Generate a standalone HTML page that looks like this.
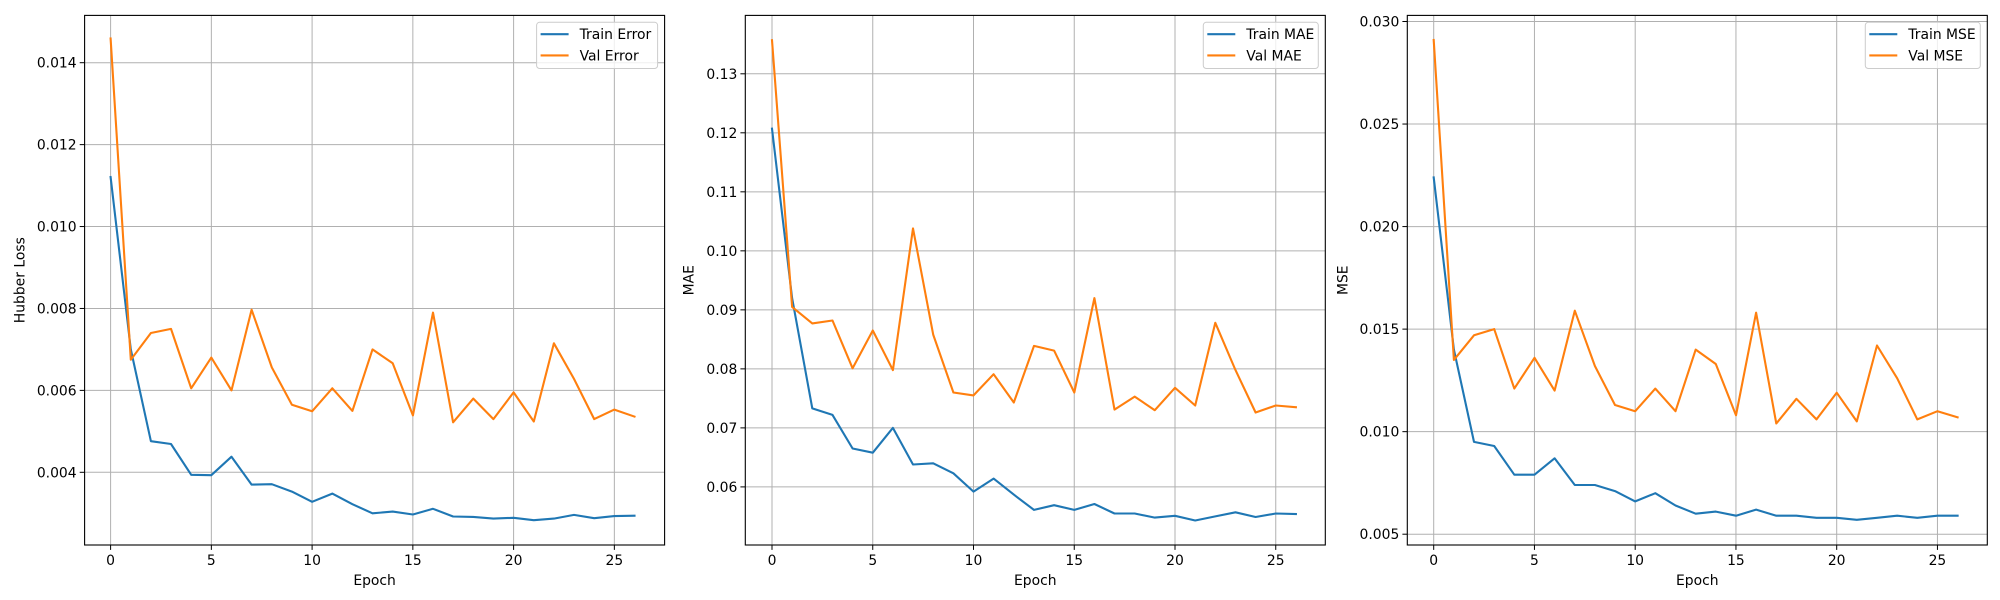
<!DOCTYPE html>
<html><head><meta charset="utf-8"><style>
html,body{margin:0;padding:0;background:#fff;}
svg{display:block;font-family:"DejaVu Sans","Liberation Sans",sans-serif;}
</style></head><body>
<svg id="fig" width="2000" height="600" xmlns="http://www.w3.org/2000/svg"></svg>
<script>
const epochs = [0,1,2,3,4,5,6,7,8,9,10,11,12,13,14,15,16,17,18,19,20,21,22,23,24,25,26];
const xTicks = [0,5,10,15,20,25];

const trainHuber = [0.01121,0.0070,0.00476,0.00469,0.00394,0.00393,0.00438,0.0037,0.00371,0.00353,0.00328,0.00348,0.00322,0.0030,0.00304,0.00297,0.00311,0.00292,0.00291,0.00287,0.00289,0.00283,0.00287,0.00296,0.00288,0.00293,0.00294];
const valHuber = [0.01459,0.00675,0.0074,0.0075,0.00605,0.0068,0.0060,0.00797,0.00656,0.00565,0.00549,0.00605,0.0055,0.0070,0.00666,0.00539,0.0079,0.00522,0.0058,0.0053,0.00595,0.00524,0.00715,0.00628,0.0053,0.00553,0.00536];
const huberTicks = [0.004,0.006,0.008,0.010,0.012,0.014];

const trainMAE = [0.1207,0.092,0.0733,0.0722,0.0665,0.0658,0.070,0.0638,0.064,0.0623,0.0592,0.0614,0.0587,0.0561,0.0569,0.0561,0.0571,0.0555,0.0555,0.0548,0.0551,0.0543,0.055,0.0557,0.0549,0.0555,0.0554];
const valMAE = [0.1357,0.0905,0.0877,0.0882,0.0801,0.0865,0.0798,0.1038,0.0858,0.076,0.0755,0.0791,0.0743,0.0839,0.0831,0.076,0.092,0.0731,0.0753,0.073,0.0768,0.0738,0.0878,0.0798,0.0726,0.0738,0.0735];
const maeTicks = [0.06,0.07,0.08,0.09,0.10,0.11,0.12,0.13];

const trainMSE = [0.0224,0.0140,0.0095,0.0093,0.0079,0.0079,0.0087,0.0074,0.0074,0.0071,0.0066,0.0070,0.0064,0.0060,0.0061,0.0059,0.0062,0.0059,0.0059,0.0058,0.0058,0.0057,0.0058,0.0059,0.0058,0.0059,0.0059];
const valMSE = [0.0291,0.0135,0.0147,0.0150,0.0121,0.0136,0.0120,0.0159,0.0132,0.0113,0.0110,0.0121,0.0110,0.0140,0.0133,0.0108,0.0158,0.0104,0.0116,0.0106,0.0119,0.0105,0.0142,0.0126,0.0106,0.0110,0.0107];
const mseTicks = [0.005,0.010,0.015,0.020,0.025,0.030];

const NS = "http://www.w3.org/2000/svg";
const fig = document.getElementById('fig');
function mk(tag, attrs, parent){
  const e = document.createElementNS(NS, tag);
  for (const k in attrs) e.setAttribute(k, attrs[k]);
  (parent||fig).appendChild(e);
  return e;
}
const TOP = 15.4, BOT = 545, W = 580;

function panel(key, left, x0px, yRef, ylabel, ticks, dec, train, val, names){
  const g = mk('g', {});
  
  
  const xs = v => x0px + v * 20.15;
  const ys = v => yRef.p0 + (v - yRef.v0) * (yRef.p1 - yRef.p0) / (yRef.v1 - yRef.v0);
  // grid
  xTicks.forEach(t => {
    const l = mk('line', {x1: xs(t), x2: xs(t), y1: TOP, y2: BOT, stroke: '#b0b0b0', 'stroke-width': 1}, g);
    
    
  });
  ticks.forEach(t => {
    const l = mk('line', {x1: left, x2: left + W, y1: ys(t), y2: ys(t), stroke: '#b0b0b0', 'stroke-width': 1}, g);
    
    
  });
  // series
  const series = [[train, '#1f77b4', names[0]], [val, '#ff7f0e', names[1]]];
  series.forEach(s => {
    const pts = epochs.map((e, i) => xs(e).toFixed(1) + ',' + ys(s[0][i]).toFixed(1)).join(' ');
    const pl = mk('polyline', {points: pts, fill: 'none', stroke: s[1], 'stroke-width': 2.1, 'stroke-linejoin': 'round', 'stroke-linecap': 'square'}, g);
    
    
  });
  // frame
  const fr = mk('rect', {x: left, y: TOP, width: W, height: BOT - TOP, fill: 'none', stroke: '#000', 'stroke-width': 1.1}, g);
  
  
  // x ticks
  xTicks.forEach(t => {
    mk('line', {x1: xs(t), x2: xs(t), y1: BOT, y2: BOT + 4.9, stroke: '#000', 'stroke-width': 1}, g);
    const tx = mk('text', {x: xs(t), y: BOT + 20, 'text-anchor': 'middle', 'font-size': 13.9, fill: '#000'}, g);
    tx.textContent = t;
    
    
  });
  ticks.forEach(t => {
    mk('line', {x1: left - 4.9, x2: left, y1: ys(t), y2: ys(t), stroke: '#000', 'stroke-width': 1}, g);
    const tx = mk('text', {x: left - 8, y: ys(t) + 5, 'text-anchor': 'end', 'font-size': 13.9, fill: '#000'}, g);
    tx.textContent = t.toFixed(dec);
    
    
  });
  const xl = mk('text', {x: left + W / 2, y: BOT + 40, 'text-anchor': 'middle', 'font-size': 13.9, fill: '#000'}, g);
  xl.textContent = 'Epoch';
  
  
  const ylx = left - (dec === 2 ? 52 : 60);
  const yl = mk('text', {x: ylx, y: (TOP + BOT) / 2, 'text-anchor': 'middle', 'font-size': 13.9, fill: '#000', transform: 'rotate(-90 ' + ylx + ' ' + (TOP + BOT) / 2 + ')'}, g);
  yl.textContent = ylabel;
  
  
  // legend
  const lw = names[0].length > 10 ? 121 : 115;
  const lg = mk('g', {}, g);
  
  
  mk('rect', {x: left + W - 7 - lw, y: 22.3, width: lw, height: 46.2, rx: 3, fill: '#fff', 'fill-opacity': 0.8, stroke: '#ccc', 'stroke-width': 1}, lg);
  series.forEach((s, i) => {
    const yy = 34.2 + i * 21.2;
    const bx = left + W - 7 - lw + 4;
    mk('line', {x1: bx, x2: bx + 28, y1: yy, y2: yy, stroke: s[1], 'stroke-width': 2.1}, lg);
    const t = mk('text', {x: bx + 39, y: yy + 5, 'font-size': 13.9, fill: '#000'}, lg);
    t.textContent = s[2];
    
    
  });
}

panel('huber', 84.6, 110.6, {v0: 0.004, p0: 472.3, v1: 0.014, p1: 62.7}, 'Hubber Loss', huberTicks, 3, trainHuber, valHuber, ['Train Error', 'Val Error']);
panel('mae', 745.3, 772, {v0: 0.06, p0: 486.9, v1: 0.13, p1: 73.8}, 'MAE', maeTicks, 2, trainMAE, valMAE, ['Train MAE', 'Val MAE']);
panel('mse', 1407.3, 1433.7, {v0: 0.005, p0: 534.2, v1: 0.030, p1: 21.5}, 'MSE', mseTicks, 3, trainMSE, valMSE, ['Train MSE', 'Val MSE']);
</script>
</body></html>
